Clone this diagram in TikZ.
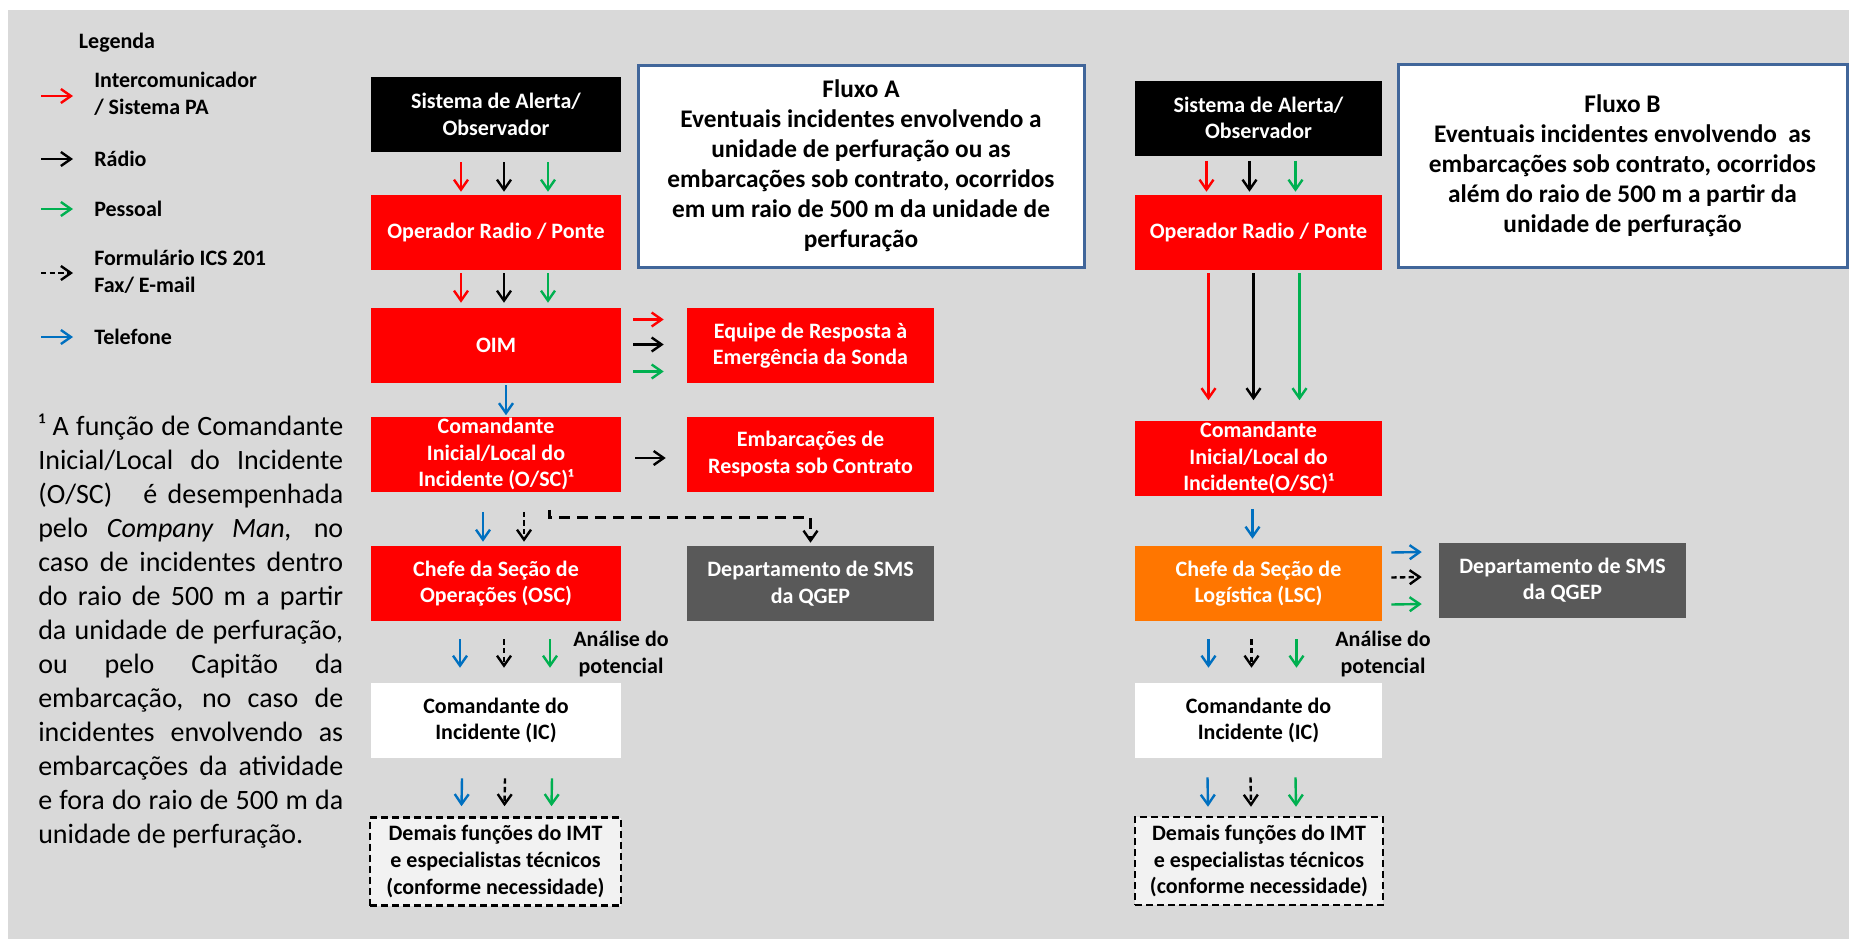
\documentclass[tikz,border=0pt]{standalone}
\usepackage{fontspec}
\setmainfont{Carlito}
\usetikzlibrary{arrows.meta,calc}

\newlength\pxu
\setlength\pxu{0.75pt}

\definecolor{bg}{RGB}{217,217,217}
\definecolor{boxred}{RGB}{255,0,0}
\definecolor{boxgray}{RGB}{89,89,89}
\definecolor{boxorange}{RGB}{255,118,0}
\definecolor{lightfill}{RGB}{242,242,242}
\definecolor{frameblue}{RGB}{65,102,154}
\definecolor{arrred}{RGB}{255,0,0}
\definecolor{arrgreen}{RGB}{0,176,80}
\definecolor{arrblue}{RGB}{0,112,192}

\tikzset{
  boxfont/.style={font={\fontsize{16.5pt}{20pt}\selectfont\bfseries}},
  box/.style={rectangle, inner sep=0pt, minimum width=250\pxu, minimum height=75\pxu,
    align=center, boxfont, text=white},
  redbox/.style={box, fill=boxred},
  blackbox/.style={box, fill=black},
  graybox/.style={box, fill=boxgray, minimum width=247\pxu},
  orangebox/.style={box, fill=boxorange, minimum width=247\pxu},
  whitebox/.style={box, fill=white, text=black},
  sidebox/.style={redbox, minimum width=247\pxu},
  restbox/.style={box, fill=lightfill, text=black, draw=black, line width=1.9pt,
    dash pattern=on 5.25pt off 3pt, minimum height=88\pxu},
  flowbox/.style={rectangle, inner sep=0pt, fill=white, draw=frameblue, line width=2.25pt,
    align=center, font={\fontsize{19pt}{22.5pt}\selectfont\bfseries}},
  plain/.style={inner sep=0pt, boxfont, text=black},
  link/.style={line width=1.8pt,
    -{Straight Barb[length=7.5pt, width=10.5pt, line width=1.8pt]}},
  rarr/.style={link, draw=arrred},
  karr/.style={link, draw=black},
  garr/.style={link, draw=arrgreen},
  barr/.style={link, draw=arrblue},
  darr/.style={link, draw=black, dash pattern=on 4pt off 2.5pt},
  longdash/.style={link, draw=black, line width=2.25pt, dash pattern=on 8.25pt off 5.25pt},
}

\newcommand\fullline[1]{\makebox[305\pxu][s]{#1}\\}

\begin{document}
\begin{tikzpicture}[x=0.75pt, y=-0.75pt]
\useasboundingbox (0,0) rectangle (1849,939);
\fill[white] (0,0) rectangle (1849,939);
\fill[bg] (8,10) rectangle (1849,939);

% ---------- legend ----------
\node[plain] (leg) at (117,43) {Legenda};
\node[plain, anchor=west, align=left] (l1) at (94,94) {Intercomunicador\\/ Sistema PA};
\node[plain, anchor=west] (l2) at (94,159) {Rádio};
\node[plain, anchor=west] (l3) at (94,209) {Pessoal};
\node[plain, anchor=west, align=left] (l4) at (94,272) {Formulário ICS 201\\Fax/ E-mail};
\node[plain, anchor=west] (l5) at (94,337) {Telefone};
\draw[rarr] ($(l1.west)+(-53,2)$) -- ++(32,0);
\draw[karr] ($(l2.west)+(-53,0)$) -- ++(32,0);
\draw[garr] ($(l3.west)+(-53,0)$) -- ++(32,0);
\draw[darr] ($(l4.west)+(-53,1)$) -- ++(32,0);
\draw[barr] ($(l5.west)+(-53,0)$) -- ++(32,0);

% ---------- footnote (justified lines) ----------
\node[anchor=west, inner sep=0pt, align=left, text width=305\pxu,
  font={\fontsize{21pt}{25.5pt}\selectfont}] (note) at (38,631) {%
\spaceskip=0pt \xspaceskip=0pt
\fullline{¹ A função de Comandante}
\fullline{Inicial/Local \ do \ Incidente}
\fullline{(O/SC) \ \ é desempenhada}
\fullline{pelo \textit{Company Man,} no}
\fullline{caso de incidentes dentro}
\fullline{do raio de 500 m a partir}
\fullline{da unidade de perfuração,}
\fullline{ou pelo Capitão da}
\fullline{embarcação, no caso de}
\fullline{incidentes envolvendo as}
\fullline{embarcações da atividade}
\fullline{e fora do raio de 500 m da}
unidade de perfuração.};

% ---------- Fluxo A ----------
\node[flowbox, minimum width=446\pxu, minimum height=202\pxu] (fa) at (861,166)
  {Fluxo A\\Eventuais incidentes envolvendo a\\unidade de perfuração ou as\\
   embarcações sob contrato, ocorridos\\em um raio de 500 m da unidade de\\perfuração};

\node[blackbox] (sysA) at (496,114.5) {Sistema de Alerta/\\Observador};
\node[redbox]   (opA)  at (496,232.5) {Operador Radio / Ponte};
\node[redbox]   (oimA) at (496,345.5) {OIM};
\node[redbox]   (comA) at (496,454)   {Comandante\\Inicial/Local do\\Incidente (O/SC)¹};
\node[redbox]   (cheA) at (496,583.5) {Chefe da Seção de\\Operações (OSC)};
\node[whitebox] (icA)  at (496,720.5) {Comandante do\\Incidente (IC)};
\node[restbox, minimum width=251\pxu] (demA) at (495.5,861.5)
  {Demais funções do IMT\\e especialistas técnicos\\(conforme necessidade)};

\node[sidebox]  (eqA)  at (810.5,345.5) {Equipe de Resposta à\\Emergência da Sonda};
\node[sidebox]  (embA) at (810.5,454)   {Embarcações de\\Resposta sob Contrato};
\node[graybox]  (smsA) at (810.5,583.5) {Departamento de SMS\\da QGEP};
\node[plain, align=center] (anA) at (621,654) {Análise do\\potencial};

% alert -> bridge
\draw[rarr] ($(sysA.south)+(-35,10)$) -- ($(opA.north)+(-35,-3)$);
\draw[karr] ($(sysA.south)+(8,10)$)   -- ($(opA.north)+(8,-3)$);
\draw[garr] ($(sysA.south)+(52,10)$)  -- ($(opA.north)+(52,-3)$);
% bridge -> OIM
\draw[rarr] ($(opA.south)+(-35,3)$) -- ($(oimA.north)+(-35,-5)$);
\draw[karr] ($(opA.south)+(8,3)$)   -- ($(oimA.north)+(8,-5)$);
\draw[garr] ($(opA.south)+(52,3)$)  -- ($(oimA.north)+(52,-5)$);
% OIM -> rig response team
\draw[rarr] ($(oimA.east)+(12,-26)$) -- ($(eqA.west)+(-23,-26)$);
\draw[karr] ($(oimA.east)+(12,-1)$)  -- ($(eqA.west)+(-23,-1)$);
\draw[garr] ($(oimA.east)+(12,26)$)  -- ($(eqA.west)+(-23,26)$);
% OIM -> on-scene commander
\draw[barr] ($(oimA.south)+(10,2)$) -- ($(comA.north)+(10,-1)$);
% on-scene commander -> contracted vessels
\draw[karr] ($(comA.east)+(14,4)$) -- ($(embA.west)+(-21,4)$);
% on-scene commander -> operations chief
\draw[barr] ($(comA.south)+(-13,20)$) -- ($(cheA.north)+(-13,-4)$);
\draw[darr] ($(comA.south)+(28,20)$)  -- ($(cheA.north)+(28,-4)$);
% on-scene commander -> SMS department (form / fax / e-mail)
\coordinate (knA) at ($(comA.south)+(53,18)$);
\draw[longdash] (knA) -- ++(0,8) -| ($(smsA.north)+(0,-3)$);
% operations chief -> incident commander
\draw[barr] ($(cheA.south)+(-36,18)$) -- ($(icA.north)+(-36,-15)$);
\draw[darr] ($(cheA.south)+(8,18)$)   -- ($(icA.north)+(8,-15)$);
\draw[garr] ($(cheA.south)+(54,18)$)  -- ($(icA.north)+(54,-15)$);
% incident commander -> IMT
\draw[barr] ($(icA.south)+(-34,20)$) -- ($(demA.north)+(-34,-10)$);
\draw[darr] ($(icA.south)+(9,20)$)   -- ($(demA.north)+(9,-10)$);
\draw[garr] ($(icA.south)+(56,20)$)  -- ($(demA.north)+(56,-10)$);

% ---------- Fluxo B ----------
\node[flowbox, minimum width=449\pxu, minimum height=203\pxu] (fb) at (1622.5,165.5)
  {Fluxo B\\Eventuais incidentes envolvendo \ as\\embarcações sob contrato, ocorridos\\
   além do raio de 500 m a partir da\\unidade de perfuração};

\node[blackbox, minimum width=247\pxu] (sysB) at (1258.5,118) {Sistema de Alerta/\\Observador};
\node[redbox, minimum width=247\pxu]   (opB)  at (1258.5,232.5) {Operador Radio / Ponte};
\node[redbox, minimum width=247\pxu]   (comB) at (1258.5,458)   {Comandante\\Inicial/Local do\\Incidente(O/SC)¹};
\node[orangebox] (cheB) at (1258.5,583.5) {Chefe da Seção de\\Logística (LSC)};
\node[whitebox, minimum width=247\pxu] (icB)  at (1258.5,720.5) {Comandante do\\Incidente (IC)};
\node[restbox, minimum width=248\pxu] (demB) at (1259,861)
  {Demais funções do IMT\\e especialistas técnicos\\(conforme necessidade)};
\node[graybox] (smsB) at (1562.5,580) {Departamento de SMS\\da QGEP};
\node[plain, align=center] (anB) at (1383,654) {Análise do\\potencial};

% alert -> bridge
\draw[rarr] ($(sysB.south)+(-52,5)$) -- ($(opB.north)+(-52,-3)$);
\draw[karr] ($(sysB.south)+(-9,5)$)  -- ($(opB.north)+(-9,-3)$);
\draw[garr] ($(sysB.south)+(37,5)$)  -- ($(opB.north)+(37,-3)$);
% bridge -> on-scene commander
\draw[rarr] ($(opB.south)+(-50,3)$) -- ($(comB.north)+(-50,-20)$);
\draw[karr] ($(opB.south)+(-5,3)$)  -- ($(comB.north)+(-5,-20)$);
\draw[garr] ($(opB.south)+(41,3)$)  -- ($(comB.north)+(41,-20)$);
% on-scene commander -> logistics chief
\draw[barr] ($(comB.south)+(-6,13)$) -- ($(cheB.north)+(-6,-7)$);
% logistics chief -> SMS department
\draw[barr] ($(cheB.east)+(9,-31)$) -- ($(smsB.west)+(-17,-28)$);
\draw[darr] ($(cheB.east)+(9,-6)$)  -- ($(smsB.west)+(-17,-3)$);
\draw[garr] ($(cheB.east)+(9,21)$)  -- ($(smsB.west)+(-17,24)$);
% logistics chief -> incident commander
\draw[barr] ($(cheB.south)+(-50,18)$) -- ($(icB.north)+(-50,-15)$);
\draw[darr] ($(cheB.south)+(-7,18)$)  -- ($(icB.north)+(-7,-15)$);
\draw[garr] ($(cheB.south)+(38,18)$)  -- ($(icB.north)+(38,-15)$);
% incident commander -> IMT
\draw[barr] ($(icB.south)+(-51,19)$) -- ($(demB.north)+(-51,-9)$);
\draw[darr] ($(icB.south)+(-8,19)$)  -- ($(demB.north)+(-8,-9)$);
\draw[garr] ($(icB.south)+(37,19)$)  -- ($(demB.north)+(37,-9)$);
\end{tikzpicture}
\end{document}
